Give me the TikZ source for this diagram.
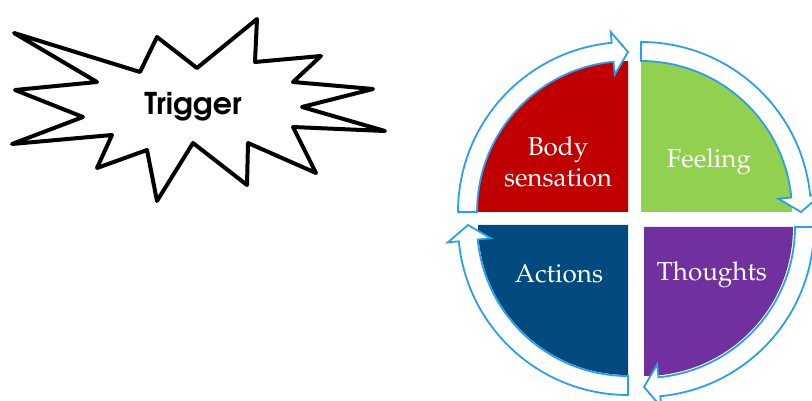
\documentclass[tikz,border=0pt]{standalone}
\usepackage[T1]{fontenc}
\definecolor{arrowblue}{RGB}{40,160,240}
\definecolor{qred}{HTML}{C00000}
\definecolor{qgreen}{HTML}{92D050}
\definecolor{qblue}{HTML}{004A80}
\definecolor{qpurple}{HTML}{7030A0}
\newcommand\cycarrow[3]{%
  \begin{scope}[shift={(#1,#2)}]
    \pgfmathsetmacro\aS{#3}
    \pgfmathsetmacro\aB{#3+84.5}
    \pgfmathsetmacro\aT{#3+90}
    \draw[cyc] (\aS:170) arc[start angle=\aS, end angle=\aB, radius=170]
      -- (\aB:181) -- (\aT:160) -- (\aB:138) -- (\aB:151)
      arc[start angle=\aB, end angle=\aS, radius=151] -- cycle;
  \end{scope}}
\begin{document}
\begin{tikzpicture}[x=1pt,y=-1pt,
  lbl/.style={text=white, font=\fontfamily{ppl}\selectfont\fontsize{26}{31}\selectfont, align=center},
  cyc/.style={draw=arrowblue, line width=1.8pt, fill=white, line join=miter},
  burst/.style={draw=black, line width=4pt, fill=white, line join=round}]
\useasboundingbox (0,0) rectangle (812,401);
\clip (0,0) rectangle (812,401);
\fill[white] (0,0) rectangle (812,401);
% starburst
\draw[burst] (14,33) -- (140,72) -- (157,37) -- (197,68) -- (257,19) -- (255,62)
  -- (321,56) -- (293,82) -- (373,89) -- (302,107) -- (385,131) -- (293,127)
  -- (316,173) -- (248,143) -- (247,185) -- (193,143) -- (157,201) -- (147,150)
  -- (97,168) -- (112,135) -- (12,144) -- (83,117) -- (15,90) -- (97,82) -- cycle;
\node[font=\fontfamily{uag}\fontseries{db}\selectfont\fontsize{30}{33}\selectfont] (trigger) at (193,107) {Trigger};
% quadrants
\fill[qred] (628,212) -- (477,212) arc[start angle=180, end angle=270, radius=151] -- cycle;
\fill[qgreen] (641,212) -- (641,61) arc[start angle=270, end angle=360, radius=151] -- cycle;
\fill[qpurple] (644,227) -- (793,227) arc[start angle=0, end angle=90, radius=149] -- cycle;
\fill[qblue] (628,225) -- (628,375) arc[start angle=90, end angle=180, radius=150] -- cycle;
% cycle arrows
\cycarrow{628}{212}{180}
\cycarrow{641}{212}{270}
\cycarrow{644}{227}{0}
\cycarrow{628}{225}{90}
% labels
\node[lbl] (body) at (558,162) {Body\\sensation};
\node[lbl] (feeling) at (709,162) {Feeling};
\node[lbl] (actions) at (559,274) {Actions};
\node[lbl] (thoughts) at (712,275) {Thoughts};
\end{tikzpicture}
\end{document}
